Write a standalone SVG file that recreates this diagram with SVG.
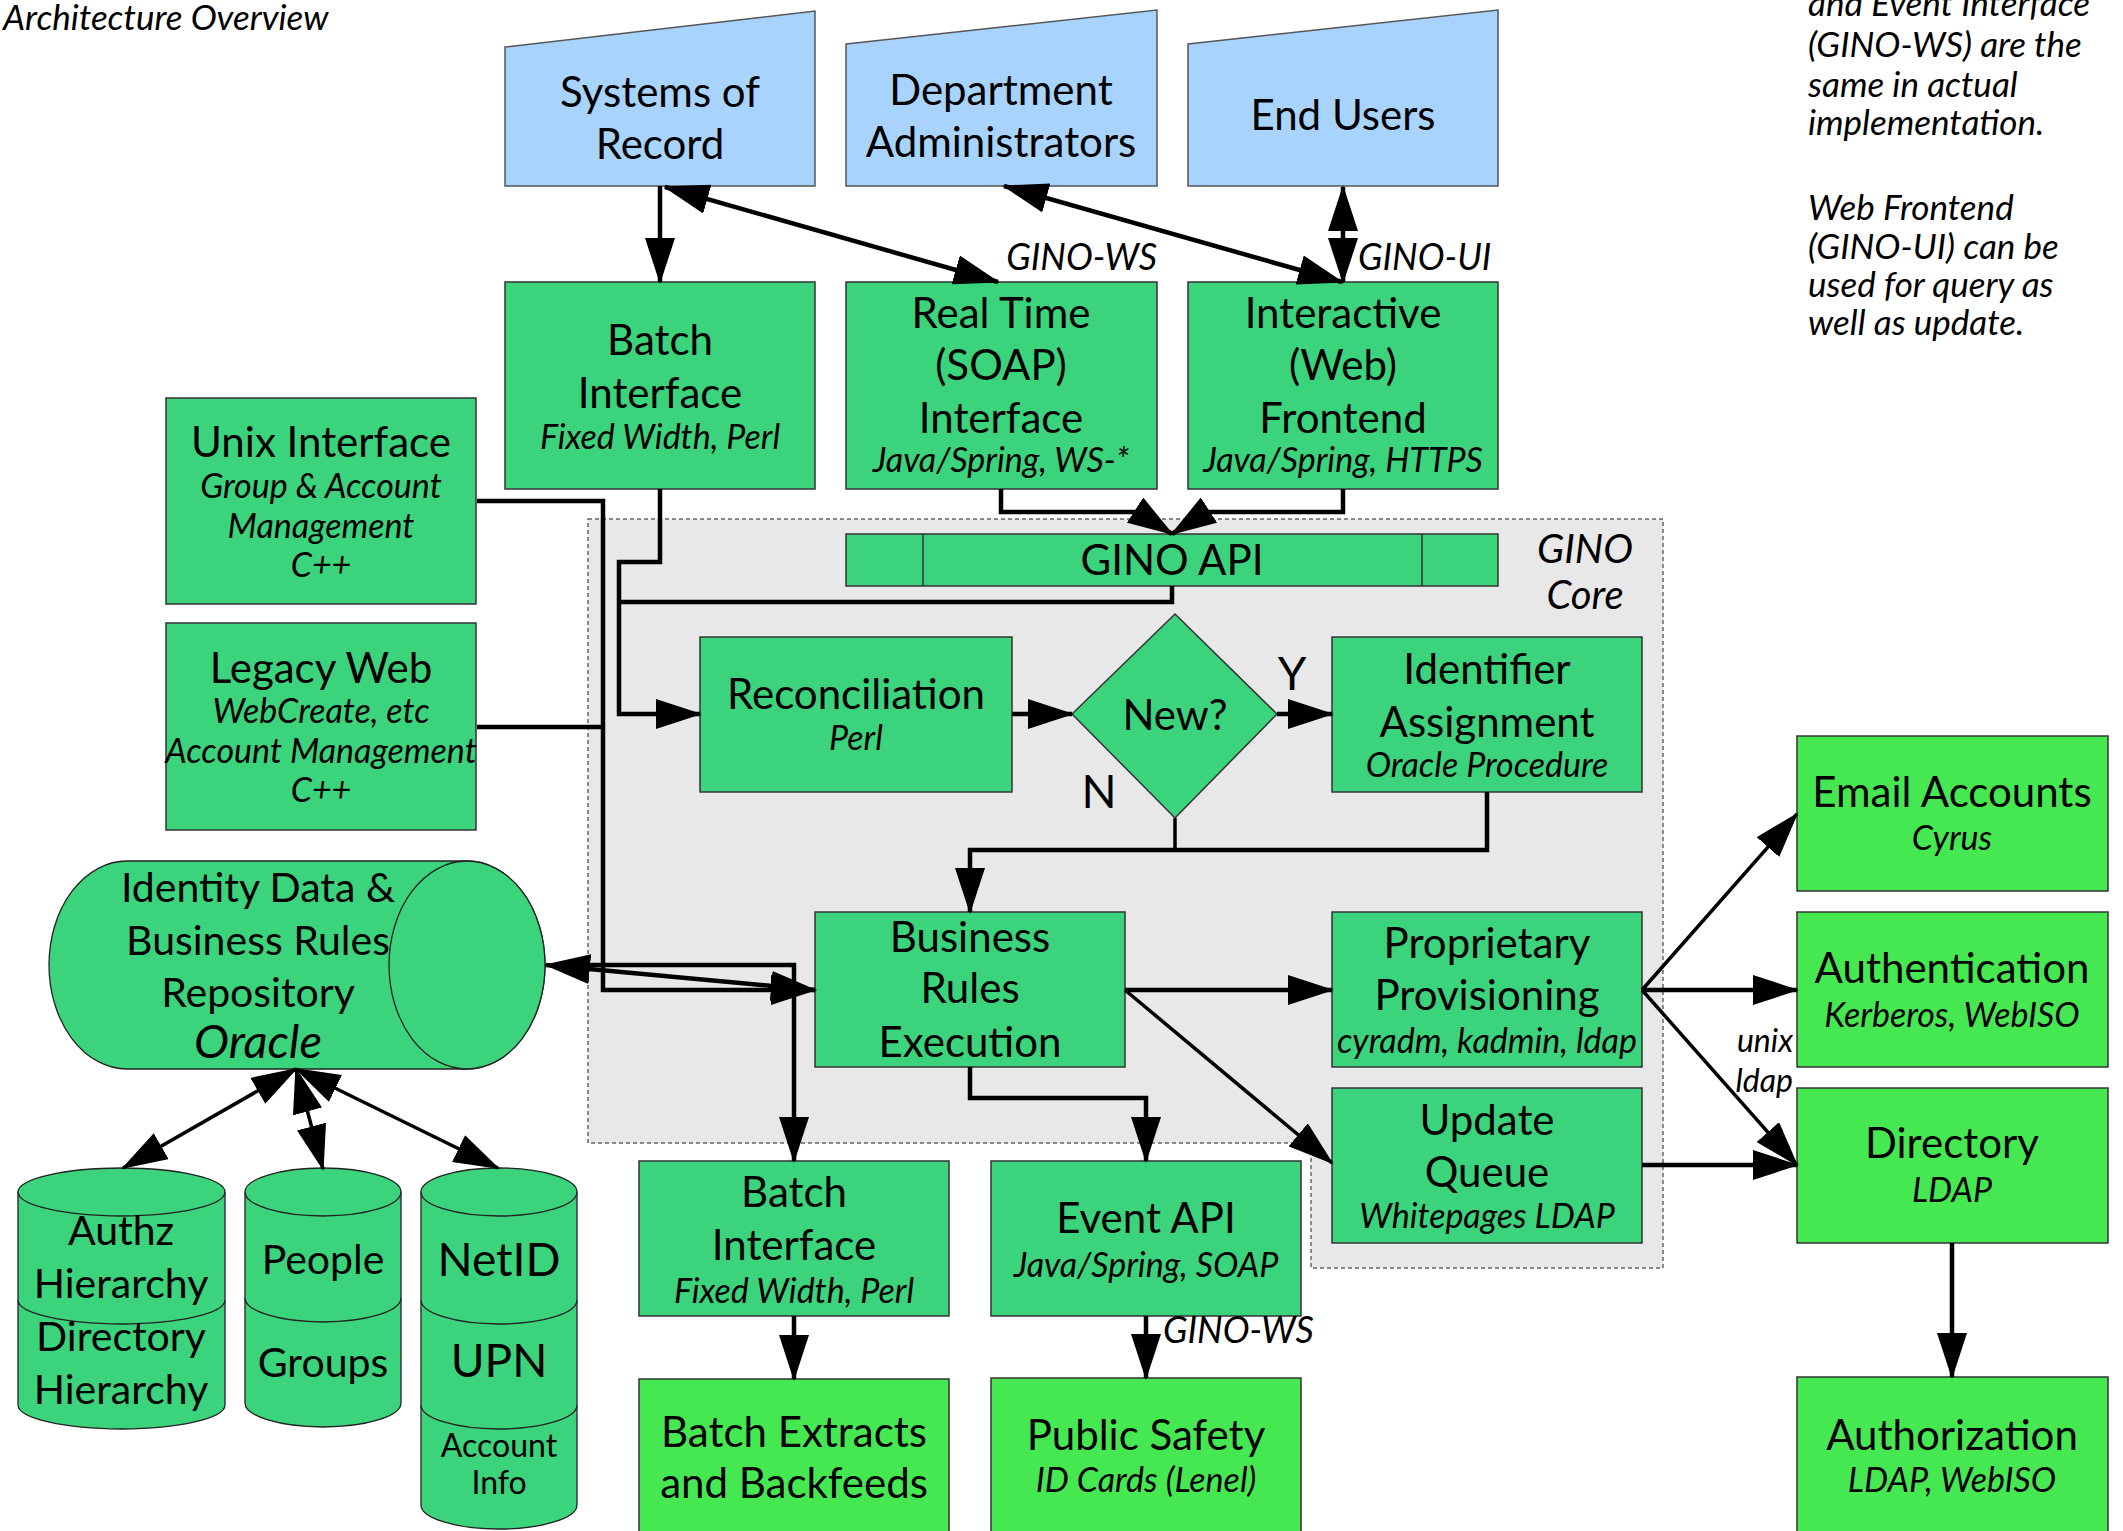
<svg xmlns="http://www.w3.org/2000/svg" width="2123" height="1531" viewBox="0 0 2123 1531">
  <style>
    text { font-family: Lato, "Open Sans", "Liberation Sans", sans-serif; fill: #000; }
    .m { font-size: 42px; text-anchor: middle; }
    .s { font-size: 34px; font-style: italic; text-anchor: middle; }
    .lbl { font-size: 36px; font-style: italic; }
    .note { font-size: 35px; font-style: italic; }
    .blue { fill: #a7d3fd; stroke: #555; stroke-width: 1.5; }
    .core { fill: #3bd37c; stroke: #333; stroke-width: 1.5; }
    .out { fill: #46e851; stroke: #333; stroke-width: 1.5; }
    .cyl { fill: #3bd37c; stroke: #222; stroke-width: 1.3; }
    .wire { fill: none; stroke: #000; stroke-width: 4.5; }
    .thin { stroke-width: 3.5; }
  </style>
  <defs>
    <marker id="ah" viewBox="0 0 46 30" refX="44" refY="15" markerWidth="46" markerHeight="30" markerUnits="userSpaceOnUse" orient="auto-start-reverse">
      <path d="M0,0 L46,15 L0,30 z" fill="#000"/>
    </marker>
  </defs>

  <rect width="2123" height="1531" fill="#fff"/>

  <!-- title and side notes -->
  <text x="3" y="30" class="note">Architecture Overview</text>
  <g id="notes">
    <text x="1808" y="16" class="note">and Event Interface</text>
    <text x="1808" y="57" class="note">(GINO-WS) are the</text>
    <text x="1808" y="97" class="note">same in actual</text>
    <text x="1808" y="135" class="note">implementation.</text>
    <text x="1808" y="220" class="note">Web Frontend</text>
    <text x="1808" y="259" class="note">(GINO-UI) can be</text>
    <text x="1808" y="297" class="note">used for query as</text>
    <text x="1808" y="335" class="note">well as update.</text>
  </g>

  <!-- GINO Core container -->
  <g id="gino-core">
    <polygon points="588,519 1663,519 1663,1268 1311,1268 1311,1143 588,1143" fill="#e8e8e8" stroke="#666" stroke-width="1.5" stroke-dasharray="4,3"/>
    <text x="1585" y="563" class="s" style="font-size:40px">GINO</text>
    <text x="1585" y="609" class="s" style="font-size:40px">Core</text>
  </g>

  <!-- external actors -->
  <g id="systems-of-record">
    <polygon class="blue" points="505,47 815,11 815,186 505,186"/>
    <text x="660" y="107" class="m">Systems of</text>
    <text x="660" y="159" class="m">Record</text>
  </g>
  <g id="department-admins">
    <polygon class="blue" points="846,44 1157,10 1157,186 846,186"/>
    <text x="1001" y="105" class="m">Department</text>
    <text x="1001" y="157" class="m">Administrators</text>
  </g>
  <g id="end-users">
    <polygon class="blue" points="1188,44 1498,10 1498,186 1188,186"/>
    <text x="1343" y="130" class="m">End Users</text>
  </g>

  <!-- interfaces -->
  <g id="batch-interface-in">
    <rect class="core" x="505" y="282" width="310" height="207"/>
    <text x="660" y="355" class="m">Batch</text>
    <text x="660" y="408" class="m">Interface</text>
    <text x="660" y="449" class="s">Fixed Width, Perl</text>
  </g>
  <g id="real-time-interface">
    <rect class="core" x="846" y="282" width="311" height="207"/>
    <text x="1001" y="328" class="m">Real Time</text>
    <text x="1001" y="380" class="m">(SOAP)</text>
    <text x="1001" y="433" class="m">Interface</text>
    <text x="1001" y="472" class="s">Java/Spring, WS-*</text>
  </g>
  <g id="web-frontend">
    <rect class="core" x="1188" y="282" width="310" height="207"/>
    <text x="1343" y="328" class="m">Interactive</text>
    <text x="1343" y="380" class="m">(Web)</text>
    <text x="1343" y="433" class="m">Frontend</text>
    <text x="1343" y="472" class="s">Java/Spring, HTTPS</text>
  </g>
  <g id="unix-interface">
    <rect class="core" x="166" y="398" width="310" height="206"/>
    <text x="321" y="457" class="m">Unix Interface</text>
    <text x="321" y="498" class="s">Group &amp; Account</text>
    <text x="321" y="538" class="s">Management</text>
    <text x="321" y="577" class="s">C++</text>
  </g>
  <g id="legacy-web">
    <rect class="core" x="166" y="623" width="310" height="207"/>
    <text x="321" y="683" class="m">Legacy Web</text>
    <text x="321" y="723" class="s">WebCreate, etc</text>
    <text x="321" y="763" class="s">Account Management</text>
    <text x="321" y="802" class="s">C++</text>
  </g>

  <!-- core components -->
  <g id="gino-api">
    <rect class="core" x="846" y="534" width="652" height="52"/>
    <line x1="923" y1="534" x2="923" y2="586" stroke="#333" stroke-width="1.5"/>
    <line x1="1422" y1="534" x2="1422" y2="586" stroke="#333" stroke-width="1.5"/>
    <text x="1172" y="575" class="m">GINO API</text>
  </g>
  <g id="reconciliation">
    <rect class="core" x="700" y="637" width="312" height="155"/>
    <text x="856" y="709" class="m">Reconciliation</text>
    <text x="856" y="750" class="s">Perl</text>
  </g>
  <g id="new-decision">
    <polygon class="core" points="1072,714 1175,614 1277,714 1175,818"/>
    <text x="1175" y="730" class="m">New?</text>
  </g>
  <g id="identifier-assignment">
    <rect class="core" x="1332" y="637" width="310" height="155"/>
    <text x="1487" y="684" class="m">Identifier</text>
    <text x="1487" y="737" class="m">Assignment</text>
    <text x="1487" y="777" class="s">Oracle Procedure</text>
  </g>
  <g id="business-rules">
    <rect class="core" x="815" y="912" width="310" height="155"/>
    <text x="970" y="952" class="m">Business</text>
    <text x="970" y="1003" class="m">Rules</text>
    <text x="970" y="1057" class="m">Execution</text>
  </g>
  <g id="proprietary-provisioning">
    <rect class="core" x="1332" y="912" width="310" height="155"/>
    <text x="1487" y="958" class="m">Proprietary</text>
    <text x="1487" y="1010" class="m">Provisioning</text>
    <text x="1487" y="1053" class="s">cyradm, kadmin, ldap</text>
  </g>
  <g id="update-queue">
    <rect class="core" x="1332" y="1088" width="310" height="155"/>
    <text x="1487" y="1135" class="m">Update</text>
    <text x="1487" y="1187" class="m">Queue</text>
    <text x="1487" y="1228" class="s">Whitepages LDAP</text>
  </g>
  <g id="batch-interface-out">
    <rect class="core" x="639" y="1161" width="310" height="155"/>
    <text x="794" y="1207" class="m">Batch</text>
    <text x="794" y="1260" class="m">Interface</text>
    <text x="794" y="1303" class="s">Fixed Width, Perl</text>
  </g>
  <g id="event-api">
    <rect class="core" x="991" y="1161" width="310" height="155"/>
    <text x="1146" y="1233" class="m">Event API</text>
    <text x="1146" y="1277" class="s">Java/Spring, SOAP</text>
  </g>

  <!-- downstream systems -->
  <g id="batch-extracts">
    <rect class="out" x="639" y="1379" width="310" height="170"/>
    <text x="794" y="1447" class="m">Batch Extracts</text>
    <text x="794" y="1498" class="m">and Backfeeds</text>
  </g>
  <g id="public-safety">
    <rect class="out" x="991" y="1378" width="310" height="170"/>
    <text x="1146" y="1450" class="m">Public Safety</text>
    <text x="1146" y="1492" class="s">ID Cards (Lenel)</text>
  </g>
  <g id="email-accounts">
    <rect class="out" x="1797" y="736" width="311" height="155"/>
    <text x="1952" y="807" class="m">Email Accounts</text>
    <text x="1952" y="850" class="s">Cyrus</text>
  </g>
  <g id="authentication">
    <rect class="out" x="1797" y="912" width="311" height="155"/>
    <text x="1952" y="983" class="m">Authentication</text>
    <text x="1952" y="1027" class="s">Kerberos, WebISO</text>
  </g>
  <g id="directory">
    <rect class="out" x="1797" y="1088" width="311" height="155"/>
    <text x="1952" y="1158" class="m">Directory</text>
    <text x="1952" y="1202" class="s">LDAP</text>
  </g>
  <g id="authorization">
    <rect class="out" x="1797" y="1377" width="311" height="170"/>
    <text x="1952" y="1450" class="m">Authorization</text>
    <text x="1952" y="1492" class="s">LDAP, WebISO</text>
  </g>

  <!-- repository and its stores -->
  <g id="repository">
    <path class="cyl" d="M127,861 H467 A78,104 0 0 1 467,1069 H127 A78,104 0 0 1 127,861 Z"/>
    <ellipse class="cyl" cx="467" cy="965" rx="78" ry="104"/>
    <text x="258" y="902" class="m" style="font-size:41px">Identity Data &amp;</text>
    <text x="258" y="955" class="m" style="font-size:41px">Business Rules</text>
    <text x="258" y="1007" class="m" style="font-size:41px">Repository</text>
    <text x="258" y="1058" class="m" style="font-size:47px;font-style:italic">Oracle</text>
  </g>
  <g id="store-hierarchy">
    <path class="cyl" d="M18,1192 V1405 A103.5,24 0 0 0 225,1405 V1192"/>
    <ellipse class="cyl" cx="121.5" cy="1192" rx="103.5" ry="24"/>
    <path class="cyl" fill="none" d="M18,1300 A103.5,24 0 0 0 225,1300"/>
    <text x="121" y="1245" class="m" style="font-size:41px">Authz</text>
    <text x="121" y="1298" class="m" style="font-size:41px">Hierarchy</text>
    <text x="121" y="1351" class="m" style="font-size:41px">Directory</text>
    <text x="121" y="1404" class="m" style="font-size:41px">Hierarchy</text>
  </g>
  <g id="store-people">
    <path class="cyl" d="M245,1192 V1403 A78,24 0 0 0 401,1403 V1192"/>
    <ellipse class="cyl" cx="323" cy="1192" rx="78" ry="24"/>
    <path class="cyl" fill="none" d="M245,1298 A78,24 0 0 0 401,1298"/>
    <text x="323" y="1274" class="m" style="font-size:41px">People</text>
    <text x="323" y="1377" class="m" style="font-size:41px">Groups</text>
  </g>
  <g id="store-netid">
    <path class="cyl" d="M421,1192 V1505 A78,24 0 0 0 577,1505 V1192"/>
    <ellipse class="cyl" cx="499" cy="1192" rx="78" ry="24"/>
    <path class="cyl" fill="none" d="M421,1300 A78,24 0 0 0 577,1300"/>
    <path class="cyl" fill="none" d="M421,1405 A78,24 0 0 0 577,1405"/>
    <text x="499" y="1276" class="m" style="font-size:46px">NetID</text>
    <text x="499" y="1377" class="m" style="font-size:46px">UPN</text>
    <text x="499" y="1457" class="m" style="font-size:32px">Account</text>
    <text x="499" y="1494" class="m" style="font-size:32px">Info</text>
  </g>

  <!-- connectors -->
  <g id="connectors" class="wire">
    <path d="M660,186 V282" marker-end="url(#ah)"/>
    <path d="M665,187 L998,282" marker-start="url(#ah)" marker-end="url(#ah)"/>
    <path d="M1004,186 L1342,282" marker-start="url(#ah)" marker-end="url(#ah)"/>
    <path d="M1343,187 V282" marker-start="url(#ah)" marker-end="url(#ah)"/>
    <path d="M1001,489 V512 H1138 L1172,534" marker-end="url(#ah)"/>
    <path d="M1343,489 V512 H1206 L1172,534" marker-end="url(#ah)"/>
    <path d="M660,489 V562 H619 V714 H700" marker-end="url(#ah)"/>
    <path d="M1172,586 V602 H619"/>
    <path d="M1012,714 H1072" marker-end="url(#ah)"/>
    <path d="M1277,714 H1332" marker-end="url(#ah)"/>
    <path class="thin" d="M1175,818 V850"/>
    <path d="M1487,792 V850 H970 V912" marker-end="url(#ah)"/>
    <path d="M477,501 H603 V990 H815" marker-end="url(#ah)"/>
    <path d="M477,727 H603"/>
    <path d="M546,965 L815,990" marker-start="url(#ah)" marker-end="url(#ah)"/>
    <path d="M560,965 H794 V1161" marker-end="url(#ah)"/>
    <path d="M1125,990 H1332" marker-end="url(#ah)"/>
    <path class="thin" d="M1125,990 L1332,1163" marker-end="url(#ah)"/>
    <path d="M970,1067 V1098 H1146 V1161" marker-end="url(#ah)"/>
    <path class="thin" d="M1642,990 L1797,814" marker-end="url(#ah)"/>
    <path d="M1642,990 H1797" marker-end="url(#ah)"/>
    <path class="thin" d="M1642,990 L1797,1165" marker-end="url(#ah)"/>
    <path d="M1642,1165 H1797" marker-end="url(#ah)"/>
    <path d="M1952,1243 V1377" marker-end="url(#ah)"/>
    <path d="M794,1316 V1379" marker-end="url(#ah)"/>
    <path d="M1146,1316 V1378" marker-end="url(#ah)"/>
    <path class="thin" d="M296,1069 L123,1168" marker-start="url(#ah)" marker-end="url(#ah)"/>
    <path class="thin" d="M296,1069 L323,1169" marker-start="url(#ah)" marker-end="url(#ah)"/>
    <path class="thin" d="M296,1069 L498,1168" marker-start="url(#ah)" marker-end="url(#ah)"/>
  </g>

  <!-- connector labels -->
  <g id="connector-labels">
    <text x="1157" y="270" class="lbl" text-anchor="end">GINO-WS</text>
    <text x="1358" y="270" class="lbl">GINO-UI</text>
    <text x="1163" y="1343" class="lbl">GINO-WS</text>
    <text x="1793" y="1052" class="lbl" text-anchor="end" style="font-size:32px">unix</text>
    <text x="1793" y="1092" class="lbl" text-anchor="end" style="font-size:32px">ldap</text>
    <text x="1292" y="690" class="m" style="font-size:46px">Y</text>
    <text x="1099" y="808" class="m" style="font-size:46px">N</text>
  </g>
</svg>
